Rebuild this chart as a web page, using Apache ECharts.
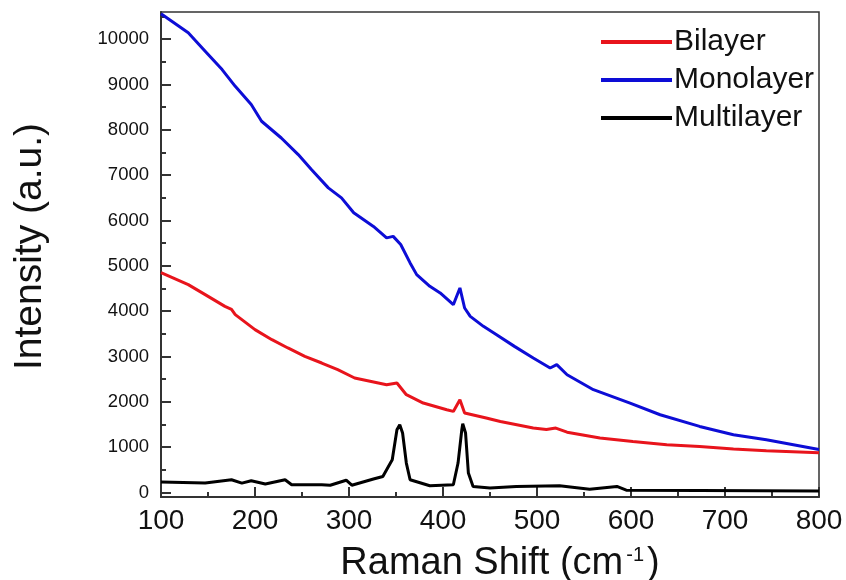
<!DOCTYPE html>
<html>
<head>
<meta charset="utf-8">
<script src="https://cdn.jsdelivr.net/npm/echarts@6/dist/echarts.min.js"></script>
<style>
    html, body {margin: 0; padding: 0; background: #fff;}
    #raman {width: 846px; height: 580px;}
</style>
</head>
<body>
<div id="raman"></div>
<script>
// values
var monoX = [100, 129, 147, 165, 179, 196, 207, 228, 246, 260, 278, 292, 305, 326, 340, 347, 355, 365, 372, 386, 397, 411, 418, 423, 429, 443, 457, 476, 496, 514, 521, 532, 560, 599, 631, 673, 709, 744, 800];
var monoY = [10560, 10140, 9735, 9330, 8960, 8560, 8190, 7820, 7455, 7125, 6720, 6500, 6170, 5870, 5616, 5650, 5470, 5064, 4806, 4548, 4402, 4143, 4512, 4070, 3885, 3665, 3481, 3223, 2966, 2746, 2819, 2598, 2267, 1973, 1715, 1457, 1274, 1163, 950];

var biX = [100, 129, 147, 168, 175, 179, 200, 218, 235, 253, 271, 288, 306, 340, 351, 361, 379, 404, 411, 418, 423, 446, 461, 496, 510, 520, 532, 567, 602, 638, 673, 709, 744, 800];
var biY = [4850, 4585, 4364, 4106, 4040, 3923, 3592, 3371, 3188, 3002, 2856, 2709, 2525, 2378, 2414, 2157, 1973, 1826, 1788, 2046, 1752, 1642, 1567, 1421, 1390, 1420, 1330, 1200, 1126, 1053, 1016, 958, 920, 877];

var multiX = [100, 147, 175, 186, 196, 211, 232, 239, 271, 280, 297, 303, 326, 336, 346, 351, 354, 357, 361, 365, 386, 411, 416, 420, 421, 424, 427, 432, 450, 478, 524, 556, 585, 595, 673, 800];
var multiY = [229, 207, 280, 207, 258, 185, 280, 170, 170, 160, 270, 160, 296, 353, 722, 1384, 1495, 1311, 649, 280, 148, 170, 649, 1384, 1516, 1311, 428, 133, 97, 133, 148, 70, 133, 50, 44, 30];

var yLabels = [0, 1000, 2000, 3000, 4000, 5000, 6000, 7000, 8000, 9000, 10000];
var yMinor = [500, 1500, 2500, 3500, 4500, 5500, 6500, 7500, 8500, 9500, 10500];

function pairs(xs, ys) {
    var res = [];
    for (var i = 0; i < xs.length; i++) {
        res.push([xs[i], ys[i]]);
    }
    return res;
}

var chart = echarts.init(document.getElementById('raman'));

var axisColor = '#333';
var font = 'Liberation Sans';

var option = {
    animation: false,
    textStyle: {fontFamily: font, color: '#111'},
    grid: {
        left: 161, right: 27, top: 12, bottom: 83,
        outerBoundsMode: 'none',
        containLabel: false,
        show: true, borderColor: axisColor, borderWidth: 1.5
    },
    legend: {
        data: ['Bilayer', 'Monolayer', 'Multilayer'],
        orient: 'vertical',
        left: 596,
        top: 22,
        icon: 'rect',
        itemWidth: 71,
        itemHeight: 4,
        itemGap: 8,
        textStyle: {fontFamily: font, fontSize: 30, color: '#111', padding: [0, 0, 0, -3]}
    },
    xAxis: {
        type: 'value',
        min: 100,
        max: 800,
        interval: 100,
        name: '{t|Raman Shift (cm}{s|-1}{t|)}',
        nameLocation: 'middle',
        nameGap: 48,
        nameTextStyle: {
            padding: [0, 0, 0, 20],
            rich: {
                t: {fontFamily: font, fontSize: 38, color: '#111'},
                s: {fontFamily: font, fontSize: 20, color: '#111', verticalAlign: 'top', padding: [0, 3, 16, 3]}
            }
        },
        axisLine: {onZero: false, lineStyle: {color: axisColor, width: 2}},
        axisTick: {inside: true, length: 10, lineStyle: {color: axisColor, width: 2}},
        minorTick: {show: true, splitNumber: 2, length: 5, lineStyle: {color: axisColor, width: 2}},
        axisLabel: {fontSize: 28, color: '#111', margin: 10},
        splitLine: {show: false}
    },
    yAxis: [
        {
            type: 'value',
            min: -100,
            max: 10600,
            name: 'Intensity (a.u.)',
            nameLocation: 'middle',
            nameGap: 111,
            nameTextStyle: {fontFamily: font, fontSize: 39, color: '#111', padding: [0, 0, 0, 16]},
            axisLine: {onZero: false, lineStyle: {color: axisColor, width: 2}},
            axisTick: {inside: true, length: 10, customValues: yLabels, lineStyle: {color: axisColor, width: 2}},
            axisLabel: {
                fontSize: 18.5, color: '#111', margin: 12, customValues: yLabels,
                formatter: function (v) { return String(v); }
            },
            splitLine: {show: false}
        },
        {
            type: 'value',
            min: -100,
            max: 10600,
            position: 'left',
            axisLine: {show: false},
            axisTick: {inside: true, length: 5, customValues: yMinor, lineStyle: {color: axisColor, width: 2}},
            axisLabel: {show: false},
            splitLine: {show: false}
        }
    ],
    series: [
        {
            name: 'Bilayer',
            type: 'line',
            symbol: 'none',
            data: pairs(biX, biY),
            itemStyle: {color: '#e8141c'},
            lineStyle: {color: '#e8141c', width: 3}
        },
        {
            name: 'Monolayer',
            type: 'line',
            symbol: 'none',
            data: pairs(monoX, monoY),
            itemStyle: {color: '#0d0dd6'},
            lineStyle: {color: '#0d0dd6', width: 3}
        },
        {
            name: 'Multilayer',
            type: 'line',
            symbol: 'none',
            data: pairs(multiX, multiY),
            itemStyle: {color: '#000'},
            lineStyle: {color: '#000', width: 3}
        }
    ]
};

chart.setOption(option);
</script>
</body>
</html>
